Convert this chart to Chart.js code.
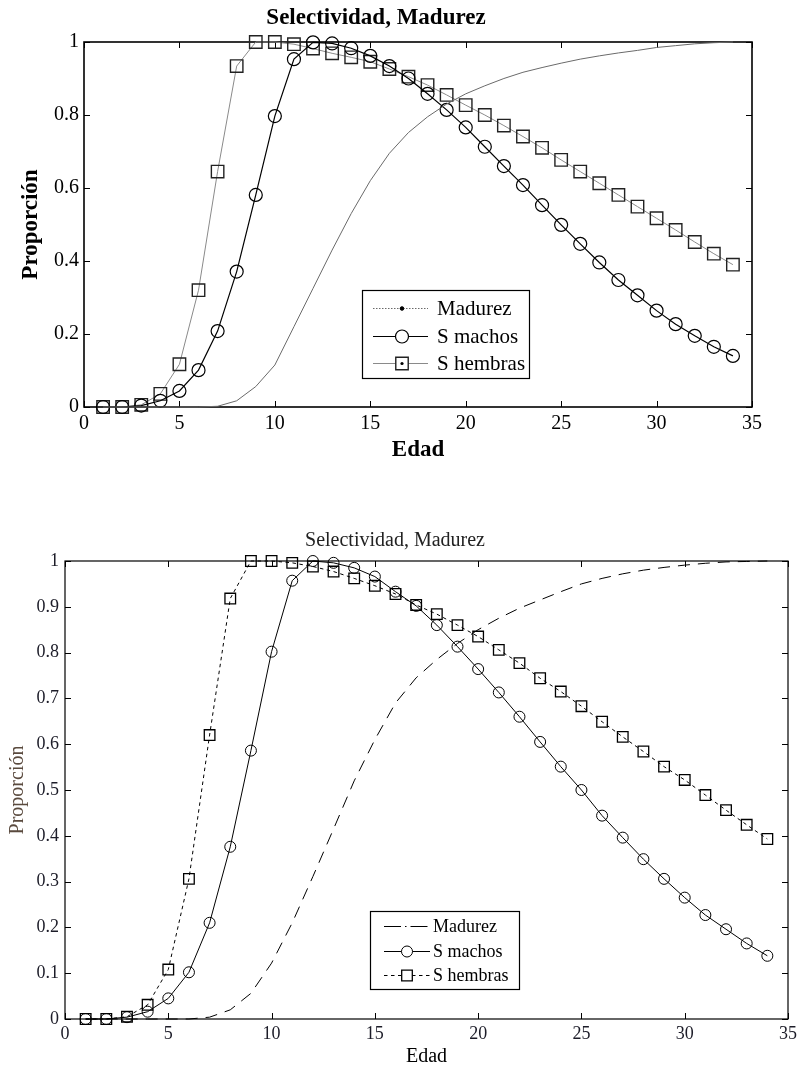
<!DOCTYPE html>
<html><head><meta charset="utf-8">
<script src="https://cdn.jsdelivr.net/npm/chart.js@4.4.0/dist/chart.umd.min.js"></script>
<style>
html,body{margin:0;padding:0;background:#fff;width:801px;height:1071px;overflow:hidden}
canvas{position:absolute;left:0}
#c1{top:0}
#c2{top:505px}
</style></head><body>
<canvas id="c1" width="801" height="480"></canvas>
<canvas id="c2" width="801" height="566"></canvas>
<script>
// ---- data ----
const edad = [1,2,3,4,5,6,7,8,9,10,11,12,13,14,15,16,17,18,19,20,21,22,23,24,25,26,27,28,29,30,31,32,33,34];
const seriesNames = ['Madurez', 'S machos', 'S hembras'];
const chartTitle = 'Selectividad, Madurez';
const xTitle = 'Edad';
const yTitle = 'Proporción';

// top chart
const madurezTop = [0,0,0,0,0,0,0.002,0.017,0.056,0.115,0.22,0.325,0.43,0.53,0.62,0.695,0.752,0.795,0.83,0.858,0.88,0.9,0.917,0.93,0.942,0.953,0.962,0.97,0.977,0.985,0.99,0.995,0.998,1];
const machosTop = [0,0,0.004,0.017,0.044,0.101,0.208,0.371,0.581,0.797,0.953,0.999,0.996,0.983,0.962,0.934,0.9,0.858,0.814,0.766,0.713,0.66,0.608,0.553,0.499,0.447,0.396,0.348,0.306,0.264,0.227,0.195,0.165,0.14];
const hembrasTop = [0,0,0.006,0.036,0.117,0.32,0.645,0.934,1,1,0.994,0.982,0.969,0.958,0.946,0.926,0.905,0.882,0.855,0.827,0.8,0.771,0.741,0.71,0.677,0.645,0.613,0.581,0.549,0.517,0.485,0.452,0.42,0.39];

// bottom chart
const madurezBottom = [0,0,0,0,0,0,0.004,0.02,0.056,0.122,0.21,0.311,0.415,0.52,0.61,0.69,0.745,0.785,0.82,0.85,0.875,0.897,0.915,0.933,0.95,0.962,0.972,0.98,0.986,0.991,0.995,0.998,0.999,1];
const machosBottom = [0,0,0.004,0.016,0.045,0.102,0.21,0.376,0.586,0.802,0.957,1,0.996,0.985,0.966,0.933,0.902,0.86,0.813,0.764,0.713,0.66,0.605,0.551,0.5,0.444,0.396,0.349,0.306,0.265,0.227,0.196,0.165,0.138];
const hembrasBottom = [0,0,0.005,0.031,0.108,0.306,0.62,0.918,1,1,0.996,0.988,0.977,0.962,0.946,0.928,0.904,0.884,0.86,0.835,0.806,0.777,0.744,0.715,0.683,0.649,0.616,0.584,0.551,0.522,0.489,0.456,0.424,0.393];

const xTickValues = [0,5,10,15,20,25,30,35];
const xTickLabels = ['0','5','10','15','20','25','30','35'];
const yTickValuesTop = [0,0.2,0.4,0.6,0.8,1];
const yTickLabelsTop = ['0','0.2','0.4','0.6','0.8','1'];
const yTickValuesBottom = [0,0.1,0.2,0.3,0.4,0.5,0.6,0.7,0.8,0.9,1];
const yTickLabelsBottom = ['0','0.1','0.2','0.3','0.4','0.5','0.6','0.7','0.8','0.9','1'];

// ---- rendering ----
const FONT = "'Liberation Serif','Times New Roman',serif";
const pts = arr => edad.map((e, i) => ({x: e, y: arr[i]}));

const framePlugin = {
  id: 'frame',
  beforeDatasetsDraw(chart, args, o) {
    const {ctx, chartArea: {left, right, top, bottom}, scales: {x, y}} = chart;
    ctx.save();
    ctx.strokeStyle = '#000';
    ctx.lineWidth = o.lw;
    ctx.strokeRect(left, top, right - left, bottom - top);
    ctx.lineWidth = 1;
    ctx.beginPath();
    x.ticks.forEach(t => {
      const px = Math.round(x.getPixelForValue(t.value)) + 0.5;
      ctx.moveTo(px, bottom); ctx.lineTo(px, bottom - o.tick);
      ctx.moveTo(px, top); ctx.lineTo(px, top + o.tick);
    });
    y.ticks.forEach(t => {
      const py = Math.round(y.getPixelForValue(t.value)) + 0.5;
      ctx.moveTo(left, py); ctx.lineTo(left + o.tick, py);
      ctx.moveTo(right, py); ctx.lineTo(right - o.tick, py);
    });
    ctx.stroke();
    ctx.restore();
  }
};

const boxLegendPlugin = {
  id: 'boxLegend',
  afterDraw(chart, args, o) {
    const ctx = chart.ctx;
    ctx.save();
    ctx.fillStyle = '#fff';
    ctx.fillRect(o.x, o.y, o.w, o.h);
    ctx.strokeStyle = '#000';
    ctx.lineWidth = 1.2;
    ctx.strokeRect(o.x + 0.5, o.y + 0.5, o.w, o.h);
    chart.data.datasets.forEach((ds, i) => {
      const yy = Math.round(o.rows[i]) + 0.5;
      ctx.strokeStyle = ds.borderColor;
      ctx.lineWidth = ds.borderWidth;
      ctx.setLineDash(o.dashes[i]);
      ctx.beginPath();
      ctx.moveTo(o.l0, yy); ctx.lineTo(o.l1, yy);
      ctx.stroke();
      ctx.setLineDash([]);
      const m = o.markers[i];
      if (m) {
        ctx.strokeStyle = m.color;
        ctx.fillStyle = m.fill;
        ctx.lineWidth = m.bw;
        Chart.helpers.drawPoint(ctx, {pointStyle: m.style, radius: m.r, borderWidth: m.bw, rotation: 0}, o.mx, yy);
        if (m.dot) {
          ctx.fillStyle = '#000';
          ctx.beginPath(); ctx.arc(o.mx, yy, 1.6, 0, Math.PI * 2); ctx.fill();
        }
      }
      ctx.fillStyle = '#000';
      ctx.font = o.font;
      ctx.textBaseline = 'middle';
      ctx.textAlign = 'left';
      ctx.fillText(seriesNames[i], o.tx, yy + 1);
    });
    ctx.restore();
  }
};

function makeChart(id, cfg) {
  return new Chart(document.getElementById(id), {
    type: 'line',
    data: {
      datasets: [
        Object.assign({label: seriesNames[0], data: pts(cfg.mad), pointRadius: 0, tension: 0, clip: false, fill: false}, cfg.madStyle),
        Object.assign({label: seriesNames[1], data: pts(cfg.mach), pointStyle: 'circle', tension: 0, clip: false, fill: false,
          pointBackgroundColor: 'rgba(0,0,0,0)'}, cfg.machStyle),
        Object.assign({label: seriesNames[2], data: pts(cfg.hemb), pointStyle: 'rect', tension: 0, clip: false, fill: false,
          pointBackgroundColor: 'rgba(0,0,0,0)'}, cfg.hembStyle)
      ]
    },
    options: {
      responsive: false,
      animation: false,
      devicePixelRatio: 1,
      layout: {padding: cfg.padding},
      scales: {
        x: {
          type: 'linear', min: 0, max: 35,
          afterBuildTicks: s => { s.ticks = xTickValues.map(v => ({value: v})); },
          ticks: {callback: (v, i) => xTickLabels[i], font: {family: FONT, size: cfg.tickSize}, color: cfg.tickColor, padding: cfg.xTickPad, maxRotation: 0, autoSkip: false},
          grid: {display: false, drawTicks: false},
          border: {display: false},
          title: {display: true, text: xTitle, font: {family: FONT, size: cfg.labelSize, weight: cfg.labelWeight, lineHeight: 1.2}, color: cfg.xLabelColor, padding: {top: 0, bottom: cfg.xTitlePad}},
          afterFit: s => { s.height = cfg.xAxisH; }
        },
        y: {
          type: 'linear', min: 0, max: 1,
          afterBuildTicks: s => { s.ticks = cfg.yVals.map(v => ({value: v})); },
          ticks: {callback: (v, i) => cfg.yLabels[i], font: {family: FONT, size: cfg.tickSize}, color: cfg.tickColor, padding: cfg.yTickPad, autoSkip: false},
          grid: {display: false, drawTicks: false},
          border: {display: false},
          title: {display: true, text: yTitle, font: {family: FONT, size: cfg.labelSize, weight: cfg.labelWeight, lineHeight: 1.2}, color: cfg.yLabelColor, padding: {top: cfg.yTitlePad, bottom: 0}},
          afterFit: s => { s.width = cfg.yAxisW; }
        }
      },
      plugins: {
        legend: {display: false},
        tooltip: {enabled: false},
        title: {display: true, text: chartTitle, font: {family: FONT, size: cfg.titleSize, weight: cfg.titleWeight, lineHeight: 1.2}, color: cfg.titleColor, padding: cfg.titlePad},
        frame: cfg.frame,
        boxLegend: cfg.legend
      }
    },
    plugins: [framePlugin, boxLegendPlugin]
  });
}

// top chart (canvas at page y = 0)
makeChart('c1', {
  mad: madurezTop, mach: machosTop, hemb: hembrasTop,
  madStyle: {borderColor: '#6a6a6a', borderWidth: 1},
  machStyle: {borderColor: '#000', borderWidth: 1.2, pointRadius: 6.5, pointBorderColor: '#000', pointBorderWidth: 1.2},
  hembStyle: {borderColor: '#8a8a8a', borderWidth: 1, pointRadius: 8.8, pointBorderColor: '#222', pointBorderWidth: 1.4},
  padding: {left: 0, right: 49, top: 0, bottom: 0},
  yVals: yTickValuesTop, yLabels: yTickLabelsTop,
  tickSize: 20, tickColor: '#000', xTickPad: 5, yTickPad: 5,
  labelSize: 23, labelWeight: 'bold', xLabelColor: '#000', yLabelColor: '#000',
  xTitlePad: 16, yTitlePad: 17, xAxisH: 73, yAxisW: 84,
  titleSize: 23, titleWeight: 'bold', titleColor: '#000', titlePad: {top: 4, bottom: 10.4},
  frame: {lw: 1.6, tick: 6},
  legend: {x: 362, y: 290, w: 167, h: 88, rows: [308, 336, 363], l0: 373, l1: 428, mx: 402, tx: 437,
    font: "21px " + FONT, dashes: [[1.5, 1.5], [], []],
    markers: [{style: 'circle', r: 1.8, bw: 1, color: '#000', fill: '#000'}, {style: 'circle', r: 6.5, bw: 1.2, color: '#000', fill: '#fff'}, {style: 'rect', r: 8.8, bw: 1.4, color: '#222', fill: '#fff', dot: true}]}
});

// bottom chart (canvas at page y = 505)
const off = 505;
makeChart('c2', {
  mad: madurezBottom, mach: machosBottom, hemb: hembrasBottom,
  madStyle: {borderColor: '#000', borderWidth: 1, borderDash: [12, 8]},
  machStyle: {borderColor: '#000', borderWidth: 1, pointRadius: 5.5, pointBorderColor: '#000', pointBorderWidth: 1},
  hembStyle: {borderColor: '#000', borderWidth: 1, borderDash: [3.5, 3.5], pointRadius: 7.5, pointBorderColor: '#000', pointBorderWidth: 1.3},
  padding: {left: 0, right: 11, top: 0, bottom: 0},
  yVals: yTickValuesBottom, yLabels: yTickLabelsBottom,
  tickSize: 18, tickColor: '#1c1c28', xTickPad: 4, yTickPad: 6,
  labelSize: 20, labelWeight: 'normal', xLabelColor: '#000', yLabelColor: '#5a4a3e',
  xTitlePad: 2, yTitlePad: 6, xAxisH: 52, yAxisW: 65,
  titleSize: 20, titleWeight: 'normal', titleColor: '#222', titlePad: {top: 24, bottom: 8},
  frame: {lw: 1.2, tick: 6},
  legend: {x: 370, y: 911 - off, w: 149, h: 78, rows: [926 - off, 951 - off, 975 - off], l0: 384, l1: 430, mx: 407, tx: 433,
    font: "18px " + FONT, dashes: [[17, 4, 1.5, 4], [], [3.5, 3.5]],
    markers: [null, {style: 'circle', r: 5.5, bw: 1, color: '#000', fill: '#fff'}, {style: 'rect', r: 7.5, bw: 1.3, color: '#000', fill: '#fff', dot: false}]}
});
</script>
</body></html>
